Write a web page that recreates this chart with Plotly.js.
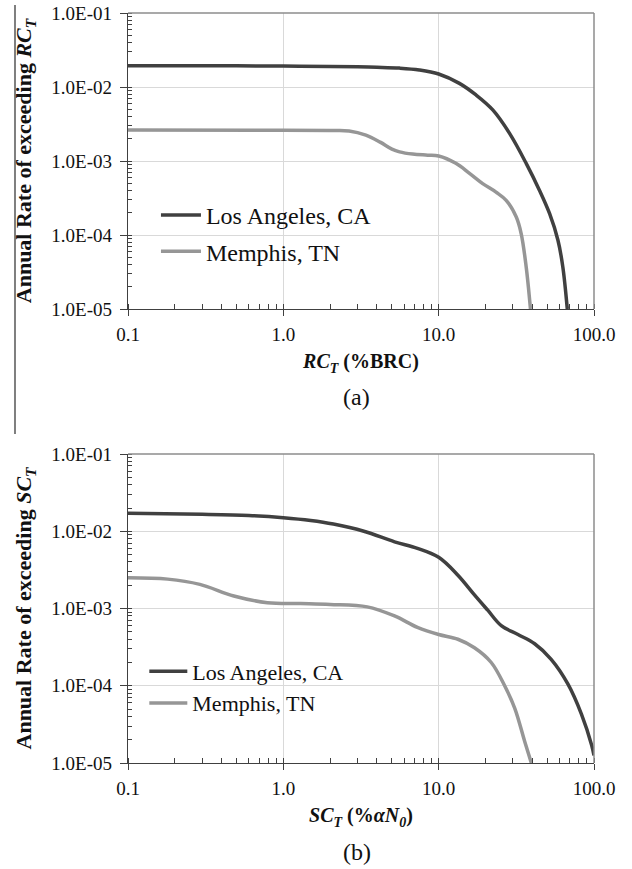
<!DOCTYPE html>
<html>
<head>
<meta charset="utf-8">
<script src="https://cdn.plot.ly/plotly-3.0.1.min.js"></script>
<style>
  html, body { margin: 0; padding: 0; background: #ffffff; }
  #chart { width: 632px; height: 869px; }
</style>
</head>
<body>
<div id="chart"></div>
<script>
// ---------- Data ----------
// (a) RC_T (%BRC)
const rcLosAngelesX = [0.1, 0.5, 1, 2, 3, 4, 5.6, 7.5, 10, 13.6, 17.4, 22.3, 28.6, 36.6, 44.6, 51.8, 58.6, 63, 67.3];
const rcLosAngelesY = [1.93e-2, 1.93e-2, 1.92e-2, 1.9e-2, 1.88e-2, 1.85e-2, 1.8e-2, 1.7e-2, 1.5e-2, 1.12e-2, 7.8e-3, 4.9e-3, 2.36e-3, 9.3e-4, 4.0e-4, 1.94e-4, 8.5e-5, 3.7e-5, 1e-5];
const rcMemphisX = [0.1, 1, 2, 2.65, 3.4, 4.2, 5.0, 5.6, 6.8, 8.5, 10, 12.9, 15.8, 19.2, 23.4, 27.2, 31.6, 34, 36.6, 39];
const rcMemphisY = [2.62e-3, 2.6e-3, 2.58e-3, 2.55e-3, 2.24e-3, 1.8e-3, 1.45e-3, 1.33e-3, 1.24e-3, 1.2e-3, 1.17e-3, 9.3e-4, 6.8e-4, 4.95e-4, 3.8e-4, 2.94e-4, 1.75e-4, 1.04e-4, 3.7e-5, 1e-5];

// (b) SC_T (%aN0)
const scLosAngelesX = [0.1, 0.3, 0.6, 1.0, 1.5, 2.1, 3.3, 5.2, 7.3, 10, 13.3, 17, 20.7, 25.3, 32.4, 41.5, 53, 68, 83, 96.6, 100];
const scLosAngelesY = [1.71e-2, 1.66e-2, 1.6e-2, 1.5e-2, 1.38e-2, 1.24e-2, 1.0e-2, 7.3e-3, 6.0e-3, 4.6e-3, 2.7e-3, 1.5e-3, 9.5e-4, 6.0e-4, 4.6e-4, 3.5e-4, 2.2e-4, 1.05e-4, 4.3e-5, 1.7e-5, 1.25e-5];
const scMemphisX = [0.1, 0.18, 0.29, 0.48, 0.79, 1.29, 2.0, 3.47, 5.2, 7.3, 10, 13.3, 17, 21.8, 26.6, 30.9, 35.8, 39.5];
const scMemphisY = [2.5e-3, 2.4e-3, 2.05e-3, 1.45e-3, 1.19e-3, 1.16e-3, 1.13e-3, 1.05e-3, 8.0e-4, 5.7e-4, 4.6e-4, 4.0e-4, 3.1e-4, 2.0e-4, 1.0e-4, 5.1e-5, 1.9e-5, 1e-5];

// Tick labels
const xTickVals = [0.1, 1, 10, 100];
const xTickText = ['0.1', '1.0', '10.0', '100.0'];
const yTickVals = [1e-5, 1e-4, 1e-3, 1e-2, 1e-1];
const yTickText = ['1.0E-05', '1.0E-04', '1.0E-03', '1.0E-02', '1.0E-01'];

const seriesNames = ['Los Angeles, CA', 'Memphis, TN'];

// ---------- Styling ----------
const SERIF = 'Liberation Serif';
const LA_COLOR = '#404040';
const MEM_COLOR = '#969696';
const AXIS_COLOR = '#404040';
const GRID_COLOR = '#d9d9d9';

function lineTrace(x, y, name, color, xa, ya, legend, group) {
  return {
    x: x, y: y, name: name, type: 'scatter', mode: 'lines',
    xaxis: xa, yaxis: ya, legend: legend, legendgroup: group,
    line: { color: color, width: 3.5, shape: 'spline', smoothing: 1 },
    hoverinfo: 'x+y+name'
  };
}

const data = [
  lineTrace(rcLosAngelesX, rcLosAngelesY, seriesNames[0], LA_COLOR, 'x', 'y', 'legend', 'a1'),
  lineTrace(rcMemphisX, rcMemphisY, seriesNames[1], MEM_COLOR, 'x', 'y', 'legend', 'a2'),
  lineTrace(scLosAngelesX, scLosAngelesY, seriesNames[0], LA_COLOR, 'x2', 'y2', 'legend2', 'b1'),
  lineTrace(scMemphisX, scMemphisY, seriesNames[1], MEM_COLOR, 'x2', 'y2', 'legend2', 'b2')
];

function xAxis(anchor, titleText) {
  return {
    type: 'log', range: [-1, 2], domain: [0, 1], anchor: anchor,
    tickmode: 'array', tickvals: xTickVals, ticktext: xTickText,
    showgrid: true, gridcolor: GRID_COLOR, gridwidth: 1,
    showline: true, linecolor: AXIS_COLOR, linewidth: 1.3,
    zeroline: false,
    ticks: 'outside', ticklen: 6, tickwidth: 1, tickcolor: AXIS_COLOR,
    minor: { ticks: 'inside', ticklen: 5, tickwidth: 1, tickcolor: AXIS_COLOR, dtick: 'D1', showgrid: false },
    tickfont: { family: SERIF, size: 19, color: '#111111' },
    ticklabelstandoff: 2,
    title: { text: titleText, font: { family: SERIF, size: 20, color: '#111111' }, standoff: 10 }
  };
}

function yAxis(anchor, domain, titleText) {
  return {
    type: 'log', range: [-5, -1], domain: domain, anchor: anchor,
    tickmode: 'array', tickvals: yTickVals, ticktext: yTickText,
    showgrid: true, gridcolor: GRID_COLOR, gridwidth: 1,
    showline: true, linecolor: AXIS_COLOR, linewidth: 1.3,
    zeroline: false,
    ticks: 'outside', ticklen: 7, tickwidth: 1, tickcolor: AXIS_COLOR,
    minor: { ticks: 'inside', ticklen: 4, tickwidth: 1, tickcolor: AXIS_COLOR, dtick: 'D1', showgrid: false },
    tickfont: { family: SERIF, size: 19, color: '#111111' },
    ticklabelstandoff: 4,
    title: { text: titleText, font: { family: SERIF, size: 22, color: '#111111' }, standoff: 13 }
  };
}

function frame(xref, yref) {
  return [
    { type: 'line', xref: xref + ' domain', yref: yref + ' domain', x0: 0, x1: 1, y0: 1, y1: 1,
      line: { color: '#8c8c8c', width: 1.5 } },
    { type: 'line', xref: xref + ' domain', yref: yref + ' domain', x0: 1, x1: 1, y0: 0, y1: 1,
      line: { color: '#8c8c8c', width: 1.5 } }
  ];
}

const layout = {
  width: 632, height: 869,
  margin: { l: 128, r: 38, t: 13, b: 106, pad: 0 },
  paper_bgcolor: '#ffffff', plot_bgcolor: '#ffffff',
  font: { family: SERIF, color: '#111111' },
  xaxis: xAxis('y', '<b><i>RC<sub>T</sub></i> (%BRC)</b>'),
  yaxis: yAxis('x', [0.6053, 1], '<b>Annual Rate of exceeding <i>RC<sub>T</sub></i></b>'),
  xaxis2: xAxis('y2', '<b><i>SC<sub>T</sub></i> (%<i>αN<sub>0</sub></i>)</b>'),
  yaxis2: yAxis('x2', [0, 0.412], '<b>Annual Rate of exceeding <i>SC<sub>T</sub></i></b>'),
  legend: {
    x: 0.06, y: 0.76, xanchor: 'left', yanchor: 'top',
    bgcolor: 'rgba(0,0,0,0)', borderwidth: 0,
    font: { family: SERIF, size: 24, color: '#111111' },
    tracegroupgap: 2, itemwidth: 40
  },
  legend2: {
    x: 0.035, y: 0.15, xanchor: 'left', yanchor: 'top',
    bgcolor: 'rgba(0,0,0,0)', borderwidth: 0,
    font: { family: SERIF, size: 22, color: '#111111' },
    tracegroupgap: 0, itemwidth: 38
  },
  shapes: frame('x', 'y').concat(frame('x2', 'y2')).concat([
    { type: 'line', xref: 'paper', yref: 'paper', x0: -0.2425, x1: -0.2425, y0: 1.0107, y1: 0.4387,
      line: { color: '#7f7f7f', width: 2 } }
  ]),
  annotations: [
    { text: '(a)', xref: 'paper', yref: 'paper', x: 0.491, y: 0.488, xanchor: 'center', yanchor: 'middle',
      showarrow: false, font: { family: SERIF, size: 24, color: '#111111' } },
    { text: '(b)', xref: 'paper', yref: 'paper', x: 0.491, y: -0.1187, xanchor: 'center', yanchor: 'middle',
      showarrow: false, font: { family: SERIF, size: 24, color: '#111111' } }
  ],
  showlegend: true
};

Plotly.newPlot('chart', data, layout, { displayModeBar: false, staticPlot: false });
</script>
</body>
</html>
